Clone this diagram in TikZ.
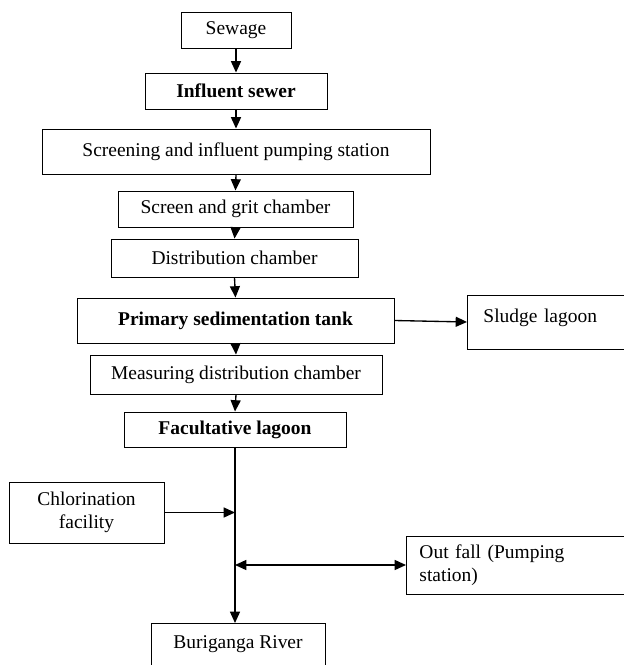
\documentclass[tikz,border=0pt]{standalone}
\usepackage{fontspec}
\setmainfont{Liberation Serif}
\usetikzlibrary{arrows.meta}
\begin{document}
\begin{tikzpicture}[x=0.75pt,y=-0.75pt,
 stage/.style={draw, line width=0.7pt, inner sep=0pt, font=\fontsize{14.6}{17.2}\selectfont},
 side/.style={stage, anchor=west, align=left},
 flow/.style={line width=1pt, -{Triangle[length=8.5pt,width=7.5pt]}},
 twoway/.style={line width=1pt, {Triangle[length=8.5pt,width=7.5pt]}-{Triangle[length=8.5pt,width=7.5pt]}}]
 \useasboundingbox (0,0) rectangle (624,665);
 \node[stage, minimum width=82.5pt, minimum height=27pt] (sewage) at (236,30) {Sewage};
 \node[stage, minimum width=136.5pt, minimum height=27pt] (influent) at (236,91) {\textbf{Influent sewer}};
 \node[stage, minimum width=291pt, minimum height=33.75pt] (screening) at (236,151.5) {Screening and influent pumping station};
 \node[stage, minimum width=176.25pt, minimum height=27pt] (grit) at (235.5,209) {Screen and grit chamber};
 \node[stage, minimum width=185.25pt, minimum height=28.5pt] (distrib) at (234.5,258) {Distribution chamber};
 \node[stage, minimum width=237.75pt, minimum height=33.75pt] (primary) at (235.5,320.5) {\textbf{Primary sedimentation tank}};
 \node[side, inner xsep=12pt, text width=120pt, minimum height=40.5pt, text height=6pt, text depth=6pt] (sludge) at (467,322) {Sludge lagoon};
 \node[stage, minimum width=219pt, minimum height=29.25pt] (measuring) at (236,374.5) {Measuring distribution chamber};
 \node[stage, minimum width=166.5pt, minimum height=26.25pt] (facult) at (235,429.5) {\textbf{Facultative lagoon}};
 \node[stage, align=center, minimum width=116.25pt, minimum height=45.75pt] (chlor) at (86.5,512.5) {Chlorination\\facility};
 \node[side, inner xsep=9.75pt, text width=172pt, minimum height=43.5pt] (outfall) at (406,565) {Out fall (Pumping\\station)};
 \node[stage, anchor=north, minimum width=130.5pt, text height=18.75pt, text depth=18.75pt] (river) at (238,623) {Buriganga River};

 \draw[flow] (sewage) -- (influent);
 \draw[flow] (influent) -- (screening);
 \draw[flow] (screening.south) -- (grit.north);
 \draw[flow] (grit.south) -- (distrib.north);
 \draw[flow] (distrib.south) -- (primary.north);
 \draw[flow] (primary.south) -- (measuring.north);
 \draw[flow] (measuring.south) -- (facult.north);
 \draw[flow] (primary.east) -- (sludge.west);
 \draw[flow] (facult.south) -- (facult.south |- river.north);
 \draw[flow] (chlor.east) -- (chlor.east -| facult.south);
 \draw[twoway] (outfall.west -| facult.south) -- (outfall.west);
\end{tikzpicture}
\end{document}
